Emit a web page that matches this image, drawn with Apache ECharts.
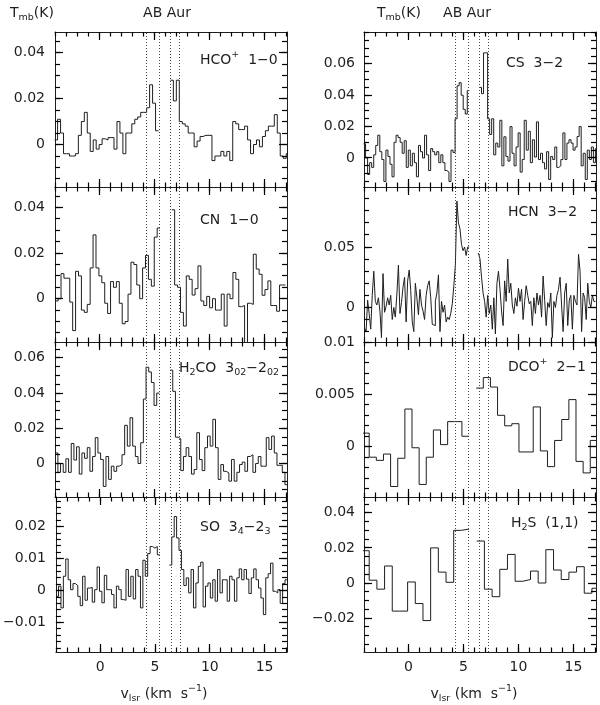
<!DOCTYPE html>
<html><head><meta charset="utf-8">
<script src="https://cdn.jsdelivr.net/npm/echarts@6/dist/echarts.min.js"></script>
<style>html,body{margin:0;padding:0;background:#fff}#c{width:600px;height:705px}</style>
</head><body><div id="c"></div>
<script>
// ---------------- data ----------------
const velMin = -4.05, velMax = 17.05;
const velMajorTicks = [0, 5, 10, 15];
const dottedVel = [4.22, 5.4, 6.44, 7.27];

// HCO+ 1-0
const hcoV0 = -3.95, hcoDv = 0.27;
const hcoT = [0.002, 0.011, 0.005, -0.004, -0.004, -0.005, -0.005, -0.004, 0.004, 0.010,
  0.014, 0.005, -0.003, 0.002, -0.002, 0.0, 0.0025, 0.002, 0.003, 0.003,
  -0.002, 0.010, 0.005, -0.004, 0.005, 0.005, 0.009, 0.011, 0.012, 0.014,
  0.014, 0.016, 0.026, 0.018, 0.006, null, null, null, null,
  0.028, 0.019, 0.028, 0.010, 0.009, 0.008, 0.005, 0.005, -0.001, 0.0015,
  0.0035, 0.004, 0.004, 0.004, -0.007, -0.005, -0.005, -0.003, -0.005, -0.003,
  -0.007, 0.010, 0.009, 0.0065, 0.0065, 0.008, 0.002, -0.004, 0.0, 0.002,
  -0.001, 0.0035, 0.006, 0.008, 0.008, 0.013, 0.005, -0.005, -0.006, -0.004];
const hcoTicks = [0, 0.02, 0.04];

// CN 1-0
const cnV0 = -3.9, cnDv = 0.265;
const cnT = [-0.001, 0.0, 0.011, 0.009, 0.009, -0.0015, -0.014, 0.012, 0.010, -0.005,
  -0.006, -0.0025, 0.0135, 0.028, 0.0135, 0.010, 0.007, -0.002, -0.0065, 0.0075,
  0.005, 0.0075, -0.002, -0.011, -0.010, 0.002, 0.016, 0.015, 0.006, 0.0,
  0.0135, 0.019, 0.0085, 0.0055, 0.027, 0.031, null, null, null, null,
  0.039, 0.006, 0.005, -0.006, -0.012, 0.010, 0.0085, 0.0016, 0.0044, 0.0144,
  -0.001, -0.003, 0.001, -0.004, 0.0, -0.005, -0.005, 0.002, -0.012, 0.002,
  0.0, 0.0115, 0.0085, -0.0035, -0.003, -0.022, -0.002, -0.0025, 0.0195, 0.013,
  0.0107, 0.0015, 0.004, 0.0078, -0.003, -0.003, -0.0055, 0.006, 0.006];
const cnTicks = [0, 0.02, 0.04];

// H2CO 3(0,3)-2(0,2)
const h2coV0 = -3.91, h2coDv = 0.243;
const h2coT = [0.006, -0.005, 0.0, -0.005, 0.0027, -0.005, 0.0114, 0.002, 0.0095, -0.006,
  0.006, 0.003, 0.009, -0.0044, 0.004, 0.0147, 0.006, 0.0023, -0.013, 0.004,
  -0.009, -0.0015, -0.0044, -0.0015, -0.0006, 0.005, 0.0217, 0.0099, 0.026, 0.0099,
  0.004, 0.0, 0.0118, 0.0366, 0.0547, 0.052, 0.046, 0.033, 0.040, null, null, null, null,
  0.053, 0.041, 0.015, 0.014, -0.004, 0.004, 0.009, 0.004, -0.006, -0.0034,
  0.0175, 0.0023, -0.004, 0.009, 0.0156, 0.0099, 0.0251, 0.009, -0.009, -0.0006,
  -0.0044, -0.0053, -0.010, 0.0023, -0.010, -0.005, -0.0006, 0.0008, -0.0044, 0.004,
  0.005, -0.005, 0.0, 0.004, -0.0015, -0.0015, 0.0147, 0.008, 0.0156, 0.006,
  -0.001, -0.001, -0.005, -0.012];
const h2coTicks = [0, 0.02, 0.04, 0.06];

// SO 3(4)-2(3)
const soV0 = -3.92, soDv = 0.22;
const soT = [-0.0018, 0.0014, -0.0054, 0.0045, 0.0099, 0.0034, 0.0003, 0.0022, 0.0016, -0.0018,
  -0.0047, 0.0045, -0.003, 0.0008, 0.001, -0.0036, 0.0003, 0.0074, -0.0002, -0.0038,
  0.0048, 0.0003, 0.0003, -0.0012, -0.0054, 0.0014, 0.0003, -0.0028, -0.003, 0.0066,
  -0.0018, 0.0045, -0.0026, 0.0066, 0.0045, -0.0054, 0.0095, 0.0045, 0.0116, 0.0138,
  0.0133, 0.0138, 0.0112, null, null, null, null,
  0.008, 0.0168, 0.0232, 0.0165, 0.0126, 0.0066, 0.0016, 0.004, -0.0007, 0.0066,
  -0.0054, 0.0024, 0.0076, 0.0089, -0.0051, 0.0014, 0.0024, -0.0023, 0.0034, -0.0033,
  0.0066, -0.0007, 0.0034, 0.0034, -0.0033, 0.0045, 0.0034, -0.0033, 0.004, 0.0068,
  0.0034, 0.0066, 0.0036, -0.0009, 0.004, 0.0068, 0.0034, 0.0008, -0.0023, -0.0075,
  0.004, 0.0053, 0.0086, -0.0002, -0.0007, 0.0003, -0.004, 0.0022, 0.0034];
const soTicks = [-0.01, 0, 0.01, 0.02];

// CS 3-2
const csV0 = -4.0, csDv = 0.185;
const csT = [0.009, 0.0, -0.0105, -0.003, -0.006, 0.002, 0.008, 0.0145, 0.004, -0.001,
  -0.015, 0.005, 0.001, -0.004, -0.012, 0.010, 0.0145, 0.013, 0.010, 0.003,
  0.011, -0.006, 0.005, -0.005, 0.003, -0.003, -0.012, 0.008, 0.004, 0.0,
  0.0145, 0.002, -0.008, 0.006, 0.004, 0.002, 0.004, -0.003, 0.002, -0.003,
  -0.008, -0.009, -0.015, 0.005, 0.0035, 0.025, 0.046, 0.048, 0.040, 0.031,
  0.028, 0.043, null, null, null, null, null,
  0.045, 0.041, 0.067, 0.067, 0.025, 0.015, 0.025, 0.002, 0.0095, 0.007,
  0.024, -0.005, 0.0135, 0.001, -0.002, 0.020, 0.003, -0.005, 0.007, 0.016,
  -0.009, -0.001, 0.024, 0.005, 0.017, -0.003, 0.0116, 0.0006, 0.023, -0.001,
  0.003, -0.003, -0.007, 0.004, -0.0137, 0.001, -0.001, 0.007, -0.006, -0.005,
  -0.001, 0.016, -0.001, 0.0095, 0.0116, 0.0095, 0.005, 0.007, 0.0137, 0.020,
  -0.005, 0.003, -0.0137, 0.005, -0.001, 0.007, -0.003, 0.006];
const csTicks = [0, 0.02, 0.04, 0.06];

// HCN 3-2
const hcnV0 = -3.93, hcnDv = 0.14;
const hcnT = [-0.017, -0.020, 0.006, -0.005, -0.018, 0.010, 0.030,
  0.005, 0.002, 0.008, -0.003, -0.025, 0.028, -0.004,
  0.001, 0.008, 0.002, 0.010, -0.010, 0.000, -0.008,
  0.011, 0.035, -0.005, 0.004, 0.017, 0.025, -0.012,
  0.022, 0.031, 0.014, -0.012, -0.020, 0.020, 0.008,
  -0.006, 0.015, 0.002, -0.003, -0.010, 0.010, 0.018,
  0.022, 0.008, -0.014, -0.015, 0.005, 0.012, 0.027,
  -0.020, 0.005, -0.004, 0.002, -0.012, -0.008, -0.010,
  -0.005, 0.003, 0.018, 0.035, 0.088, 0.070, 0.065, 0.052, 0.047, 0.050, 0.043, 0.050,
  null, null, null, null, null, null,
  0.045, 0.040, 0.025, 0.012, 0.005, -0.008, 0.010,
  -0.005, 0.002, -0.018, 0.008, -0.022, 0.020, 0.030,
  0.015, -0.003, -0.015, 0.022, 0.005, 0.040, 0.012,
  0.020, 0.002, -0.005, 0.008, 0.001, 0.016, 0.005,
  0.015, -0.010, 0.005, 0.018, 0.010, 0.003, 0.005,
  -0.015, 0.008, -0.005, 0.012, 0.002, 0.010, -0.008,
  0.026, 0.006, -0.015, 0.004, 0.000, 0.012, -0.025,
  0.005, 0.000, 0.010, 0.015, 0.025, 0.002, -0.020,
  0.012, 0.020, -0.015, 0.006, 0.010, -0.018, 0.010,
  0.005, 0.002, 0.044, 0.030, -0.020, 0.012, 0.008,
  -0.010, 0.020, 0.005, 0.000, 0.010, 0.005];
const hcnTicks = [0, 0.05];

// DCO+ 2-1
const dcoV0 = -3.9, dcoDv = 0.6485;
const dcoT = [0.0013, -0.001, -0.0013, -0.0007, -0.0038, -0.0011, 0.0036, -0.0001, -0.0036, -0.001,
  0.0016, 0.0002, 0.0024, 0.0024, 0.001, null,
  0.0056, 0.0066, 0.0057, 0.003, 0.002, 0.0022, -0.0005, -0.0005, 0.0038, -0.0004,
  -0.0019, 0.0006, 0.0026, 0.0045, -0.0014, -0.0025, 0.0006];
const dcoTicks = [0, 0.005, 0.01];

// H2S (1,1)
const h2sV0 = -3.925, h2sDv = 0.6985;
const h2sT = [0.0184, 0.0016, -0.0035, 0.0097, -0.016, -0.016, 0.0006, -0.0117, -0.0214, 0.02,
  0.0062, 0.0004, 0.030, 0.0307, null,
  0.0239, -0.0035, -0.0078, 0.0078, 0.0163, 0.001, 0.002, 0.0068, 0.0, 0.019,
  0.0074, 0.002, 0.0062, 0.0093, -0.0058, -0.003];
const h2sTicks = [-0.02, 0, 0.02, 0.04];

// ---------------- layout / style ----------------
const FONT = 'DejaVu Sans';
const INK = '#1e1e1e';
const TICK = '#000';
const FS = 14;

const panels = [
  {col:0,row:0,v0:hcoV0,dv:hcoDv,t:hcoT,ymin:-0.0185,ymax:0.049,ticks:hcoTicks,minor:0.005,
   label:'{t|HCO}{p|+}{t|  1−0}',lx:200,ly:60},
  {col:0,row:1,v0:cnV0,dv:cnDv,t:cnT,ymin:-0.019,ymax:0.049,ticks:cnTicks,minor:0.005,
   label:'{t|CN  1−0}',lx:200,ly:220},
  {col:0,row:2,v0:h2coV0,dv:h2coDv,t:h2coT,ymin:-0.019,ymax:0.069,ticks:h2coTicks,minor:0.005,
   label:'{t|H}{b|2}{t|CO  3}{b|02}{t|−2}{b|02}',lx:179,ly:368},
  {col:0,row:3,v0:soV0,dv:soDv,t:soT,ymin:-0.0192,ymax:0.0293,ticks:soTicks,minor:0.002,
   label:'{t|SO  3}{b|4}{t|−2}{b|3}',lx:200,ly:527},
  {col:1,row:0,v0:csV0,dv:csDv,t:csT,ymin:-0.0185,ymax:0.0803,ticks:csTicks,minor:0.005,
   label:'{t|CS  3−2}',lx:506,ly:63},
  {col:1,row:1,v0:hcnV0,dv:hcnDv,t:hcnT,ymin:-0.0286,ymax:0.0997,ticks:hcnTicks,minor:0.01,
   label:'{t|HCN  3−2}',lx:508,ly:212},
  {col:1,row:2,v0:dcoV0,dv:dcoDv,t:dcoT,ymin:-0.0048,ymax:0.01,ticks:dcoTicks,minor:0.001,
   label:'{t|DCO}{p|+}{t|  2−1}',lx:508,ly:367},
  {col:1,row:3,v0:h2sV0,dv:h2sDv,t:h2sT,ymin:-0.0393,ymax:0.049,ticks:h2sTicks,minor:0.005,
   label:'{t|H}{b|2}{t|S  (1,1)}',lx:511,ly:523}
];

const X_MAJ = 8, X_MIN = 4.5, Y_MAJ = 8, Y_MIN = 5;

function stepList(lo, hi, step) {
  const out = [];
  for (let k = Math.ceil(lo / step - 1e-9); k * step <= hi + 1e-12; k++) out.push(+(k * step).toFixed(6));
  return out;
}
const velMinorTicks = stepList(-4, 17, 1);

function fmtY(v) {
  if (Math.abs(v) < 1e-12) return '0';
  return (v < 0 ? '−' : '') + String(+Math.abs(v).toFixed(4));
}

function segments(v0, dv, t) {
  const segs = [];
  let cur = [];
  for (let i = 0; i <= t.length; i++) {
    const y = i < t.length ? t[i] : null;
    if (y === null || y === undefined) {
      if (cur.length) {
        const last = cur[cur.length - 1];
        cur.push([last[0] + dv, last[1]]);
        segs.push(cur);
        cur = [];
      }
    } else {
      cur.push([v0 - dv / 2 + i * dv, y]);
    }
  }
  return segs;
}

const rich = {
  t: {fontFamily: FONT, fontSize: FS, fill: INK, lineHeight: 20},
  p: {fontFamily: FONT, fontSize: 9.5, fill: INK, verticalAlign: 'top', lineHeight: 10},
  b: {fontFamily: FONT, fontSize: 9.5, fill: INK, verticalAlign: 'bottom', lineHeight: 10}
};

const grids = [], xAxes = [], yAxes = [], lineSeries = [], tickSeries = [], graphics = [];

function mkX(g, pos, labels) {
  return {
    gridIndex: g, type: 'value', position: pos, min: velMin, max: velMax,
    axisLine: {show: true, onZero: false, lineStyle: {color: INK, width: 1}},
    axisTick: {show: false},
    axisLabel: {show: labels, customValues: velMajorTicks, margin: 8, fontFamily: FONT, fontSize: FS, color: INK,
      formatter: v => String(v)},
    splitLine: {show: false}
  };
}
function mkY(g, pos, p, labels, margin) {
  return {
    gridIndex: g, type: 'value', position: pos, min: p.ymin, max: p.ymax,
    axisLine: {show: true, onZero: false, lineStyle: {color: INK, width: 1}},
    axisTick: {show: false},
    axisLabel: {show: labels, customValues: p.ticks, margin: margin, fontFamily: FONT, fontSize: FS, color: INK,
      formatter: fmtY},
    splitLine: {show: false}
  };
}

function px(v) { return Math.round(v - 0.5) + 0.5; }

panels.forEach((p, g) => {
  grids.push({left: p.col ? 364 : 55, top: 32 + 155 * p.row, width: 232, height: 155, containLabel: false});
  const xi = xAxes.length;
  xAxes.push(mkX(g, 'bottom', p.row === 3));
  xAxes.push(mkX(g, 'top', false));
  const yi = yAxes.length;
  yAxes.push(mkY(g, 'left', p, true, p.col ? 9 : 10));
  yAxes.push(mkY(g, 'right', p, false, 0));

  segments(p.v0, p.dv, p.t).forEach((d, k) => {
    const s = {
      type: 'line', xAxisIndex: xi, yAxisIndex: yi, data: d, step: 'end',
      showSymbol: false, symbol: 'none', clip: true,
      lineStyle: {color: INK, width: 1}
    };
    if (k === 0) {
      s.markLine = {
        silent: true, symbol: ['none', 'none'], label: {show: false},
        lineStyle: {type: [1, 2], color: '#444', width: 1},
        data: dottedVel.map(v => ({xAxis: v}))
      };
    }
    lineSeries.push(s);
  });

  // tick marks on all four sides, placed through the axis scales
  const tickData = [];
  [0, 1].forEach(side => {
    velMajorTicks.forEach(v => tickData.push([side, v, X_MAJ]));
    velMinorTicks.forEach(v => tickData.push([side, v, X_MIN]));
  });
  const yMinor = stepList(p.ymin, p.ymax, p.minor);
  [2, 3].forEach(side => {
    p.ticks.forEach(v => tickData.push([side, v, Y_MAJ]));
    yMinor.forEach(v => tickData.push([side, v, Y_MIN]));
  });
  tickSeries.push({
    type: 'custom', xAxisIndex: xi, yAxisIndex: yi, clip: false, z: 5,
    data: tickData,
    renderItem: (params, api) => {
      const side = api.value(0), v = api.value(1), len = api.value(2);
      let shape;
      if (side === 0) {
        const c = api.coord([v, p.ymin]); const x = px(c[0]);
        shape = {x1: x, y1: c[1], x2: x, y2: c[1] - len};
      } else if (side === 1) {
        const c = api.coord([v, p.ymax]); const x = px(c[0]);
        shape = {x1: x, y1: c[1], x2: x, y2: c[1] + len};
      } else if (side === 2) {
        const c = api.coord([velMin, v]); const y = px(c[1]);
        shape = {x1: c[0], y1: y, x2: c[0] + len, y2: y};
      } else {
        const c = api.coord([velMax, v]); const y = px(c[1]);
        shape = {x1: c[0], y1: y, x2: c[0] - len, y2: y};
      }
      return {type: 'line', shape: shape, style: {stroke: TICK, lineWidth: 1.2}};
    }
  });

  graphics.push({type: 'text', x: p.lx, y: p.ly,
    style: {text: p.label, rich: rich, align: 'left', verticalAlign: 'middle'}});
});

// header and axis titles
[10, 377].forEach(x => graphics.push({type: 'text', x: x, y: 13,
  style: {text: '{t|T}{b|mb}{t|(K)}', rich: rich, align: 'left', verticalAlign: 'middle'}}));
[167, 467].forEach(x => graphics.push({type: 'text', x: x, y: 13,
  style: {text: '{t|AB Aur}', rich: rich, align: 'center', verticalAlign: 'middle'}}));
[164, 474].forEach(x => graphics.push({type: 'text', x: x, y: 694,
  style: {text: '{t|v}{b|lsr}{t| (km  s}{p|−1}{t|)}', rich: rich, align: 'center', verticalAlign: 'middle'}}));

const chart = echarts.init(document.getElementById('c'));
chart.setOption({
  animation: false,
  grid: grids, xAxis: xAxes, yAxis: yAxes, series: lineSeries.concat(tickSeries),
  graphic: {elements: graphics}
});
</script></body></html>
